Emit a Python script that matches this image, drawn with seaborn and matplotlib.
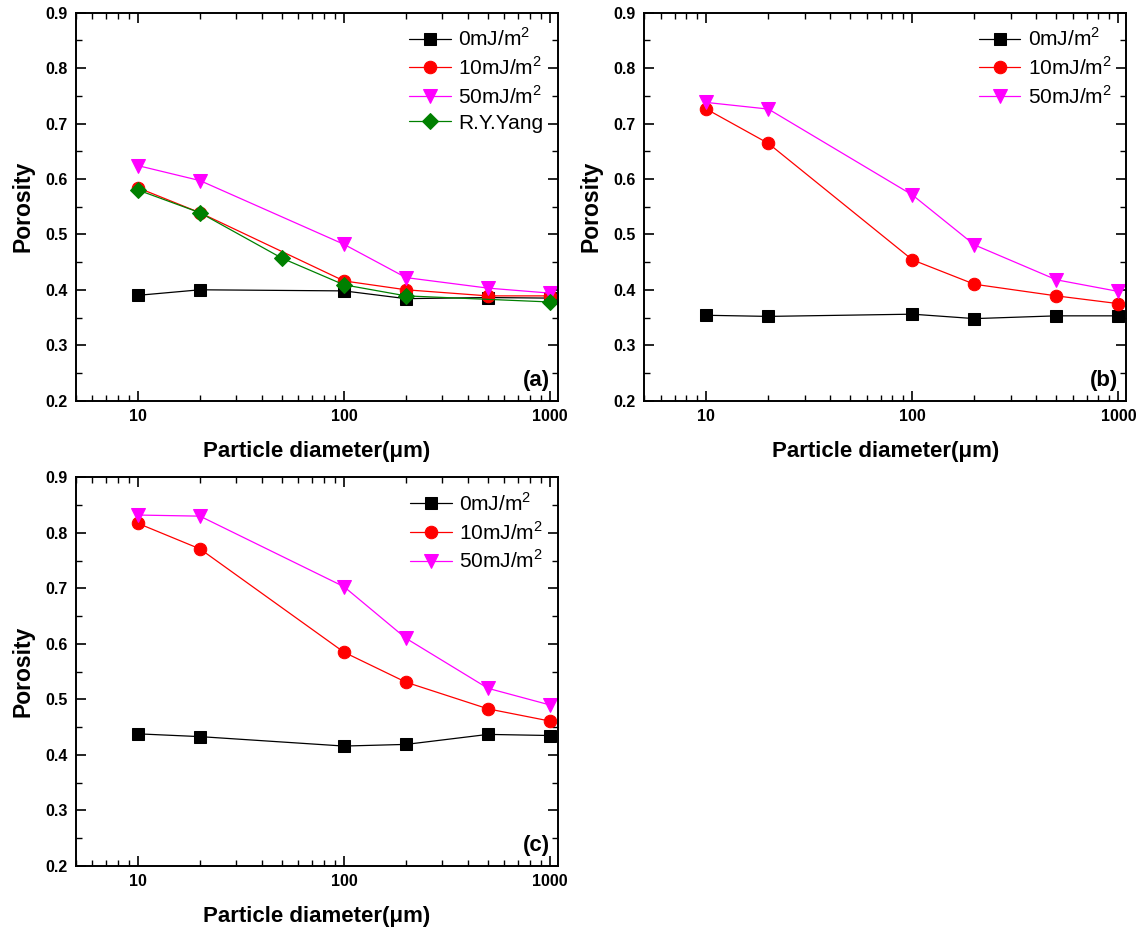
import numpy as np
import pandas as pd
import matplotlib
matplotlib.use("Agg")
import matplotlib.pyplot as plt
import seaborn as sns
from matplotlib.ticker import FixedLocator, LogLocator, MultipleLocator, NullFormatter

# diametros das particulas (um)
diam = [10, 20, 100, 200, 500, 1000]
diam_yang = [10, 20, 50, 100, 200, 1000]

# painel (a)
a_0 = [0.390, 0.400, 0.398, 0.384, 0.386, 0.385]
a_10 = [0.584, 0.539, 0.416, 0.400, 0.389, 0.389]
a_50 = [0.624, 0.597, 0.482, 0.422, 0.403, 0.394]
a_yang = [0.580, 0.539, 0.457, 0.409, 0.389, 0.378]

# painel (b)
b_0 = [0.354, 0.352, 0.356, 0.348, 0.353, 0.353]
b_10 = [0.726, 0.664, 0.454, 0.410, 0.389, 0.375]
b_50 = [0.738, 0.726, 0.571, 0.481, 0.418, 0.397]

# painel (c)
c_0 = [0.438, 0.433, 0.416, 0.419, 0.437, 0.435]
c_10 = [0.817, 0.771, 0.585, 0.531, 0.483, 0.461]
c_50 = [0.832, 0.830, 0.703, 0.610, 0.520, 0.490]

rotulos = ["0mJ/m$^2$", "10mJ/m$^2$", "50mJ/m$^2$", "R.Y.Yang"]
cores = ["black", "red", "#FF00FF", "#008000"]
marcadores = ["s", "o", "v", "D"]
tamanhos = [8.5, 9, 10, 8]

sns.set_theme(style="white")
plt.rcParams['font.family'] = ['Liberation Sans', 'DejaVu Sans']
plt.rcParams['mathtext.fontset'] = 'custom'
plt.rcParams['mathtext.rm'] = 'Liberation Sans'
plt.rcParams['text.color'] = 'black'
plt.rcParams['axes.labelcolor'] = 'black'

fig = plt.figure(figsize=(11.44, 9.30), dpi=100)
posicoes = {
    "a": [0.0664, 0.5692, 0.4211, 0.4172],
    "b": [0.5633, 0.5692, 0.4211, 0.4172],
    "c": [0.0664, 0.0688, 0.4211, 0.4180],
}
paineis = {
    "a": [(diam, a_0), (diam, a_10), (diam, a_50), (diam_yang, a_yang)],
    "b": [(diam, b_0), (diam, b_10), (diam, b_50)],
    "c": [(diam, c_0), (diam, c_10), (diam, c_50)],
}

for letra, series in paineis.items():
    ax = fig.add_axes(posicoes[letra])
    for i, (x, y) in enumerate(series):
        df = pd.DataFrame({"d": x, "p": y})
        sns.lineplot(data=df, x="d", y="p", ax=ax, color=cores[i], marker=marcadores[i],
                     markersize=tamanhos[i], markeredgecolor=cores[i],
                     linewidth=0.9, label=rotulos[i])
    ax.set_xscale("log")
    ax.set_xlim(5, 1090)
    ax.set_ylim(0.2, 0.9)
    ax.xaxis.set_major_locator(FixedLocator([10, 100, 1000]))
    ax.set_xticklabels(["10", "100", "1000"])
    ax.xaxis.set_minor_locator(LogLocator(base=10, subs=np.arange(2, 10)))
    ax.xaxis.set_minor_formatter(NullFormatter())
    ax.yaxis.set_major_locator(MultipleLocator(0.1))
    ax.yaxis.set_minor_locator(MultipleLocator(0.05))
    ax.set_yticklabels([f"{v:.1f}" for v in ax.get_yticks()])
    ax.tick_params(which="both", direction="in", top=True, right=True,
                   bottom=True, left=True, colors="black")
    ax.tick_params(which="major", length=7, width=1.2, labelsize=11.5, pad=6)
    ax.tick_params(which="minor", length=4, width=1.0)
    for t in ax.get_xticklabels() + ax.get_yticklabels():
        t.set_fontweight("bold")
    for s in ax.spines.values():
        s.set_color("black")
        s.set_linewidth(1.4)
    ax.set_xlabel("Particle diameter(μm)", fontsize=16, fontweight="bold", labelpad=12)
    ax.set_ylabel("Porosity", fontsize=16.5, fontweight="bold", labelpad=8)
    ax.legend(loc="upper right", frameon=False, fontsize=15, handlelength=2.0,
              handletextpad=0.35, labelspacing=0.3, borderaxespad=0.3)
    ax.text(0.984, 0.053, f"({letra})", transform=ax.transAxes, ha="right", va="center",
            fontsize=16, fontweight="bold")

plt.savefig("out.png", dpi=100)
plt.close()
